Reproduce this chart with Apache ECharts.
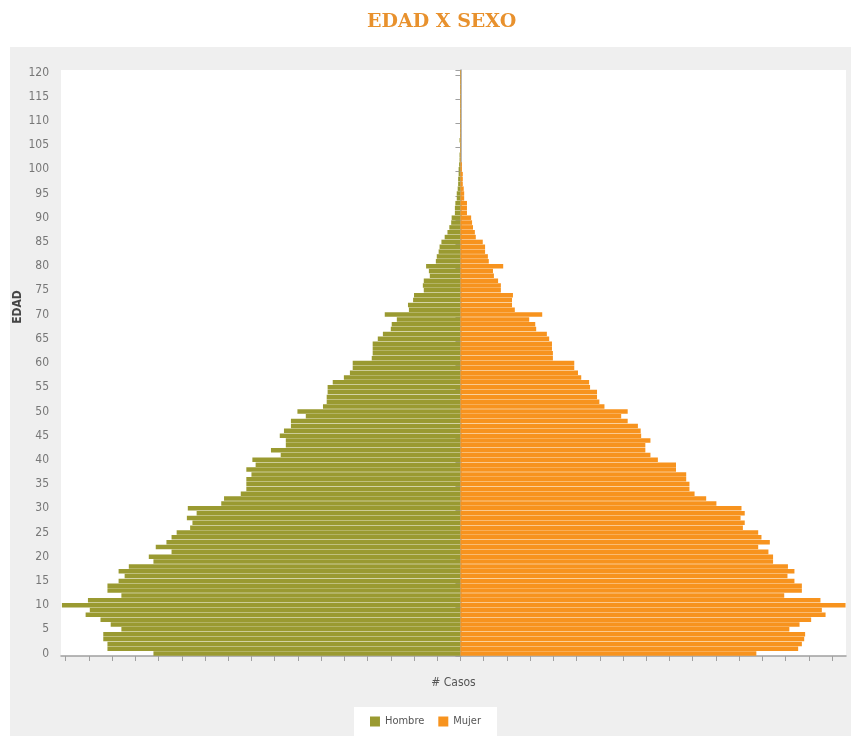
<!DOCTYPE html>
<html>
<head>
<meta charset="utf-8">
<title>EDAD X SEXO</title>
<script src="https://cdn.jsdelivr.net/npm/echarts@6/dist/echarts.min.js"></script>
<style>
  html, body { margin: 0; padding: 0; background: #fff; }
  #piramide { width: 851px; height: 736px; }
</style>
</head>
<body>
<div id="piramide"></div>
<script>
// edades 0..120
var edades = [
  0, 1, 2, 3, 4, 5, 6, 7, 8, 9, 10, 11, 12, 13, 14, 15, 16, 17, 18, 19,
  20, 21, 22, 23, 24, 25, 26, 27, 28, 29, 30, 31, 32, 33, 34, 35, 36, 37, 38, 39,
  40, 41, 42, 43, 44, 45, 46, 47, 48, 49, 50, 51, 52, 53, 54, 55, 56, 57, 58, 59,
  60, 61, 62, 63, 64, 65, 66, 67, 68, 69, 70, 71, 72, 73, 74, 75, 76, 77, 78, 79,
  80, 81, 82, 83, 84, 85, 86, 87, 88, 89, 90, 91, 92, 93, 94, 95, 96, 97, 98, 99,
  100, 101, 102, 103, 104, 105, 106, 107, 108, 109, 110, 111, 112, 113, 114, 115, 116, 117, 118, 119,
  120
];

// casos hombres (se dibujan hacia la izquierda)
var hombre = [
  661, 760, 760, 769, 769, 730, 753, 775, 807, 798,
  858, 802, 730, 760, 760, 736, 723, 736, 714, 661,
  671, 622, 656, 633, 622, 611, 582, 577, 589, 568,
  587, 515, 509, 473, 461, 461, 461, 450, 461, 441,
  448, 387, 408, 376, 376, 389, 380, 365, 365, 333,
  351, 296, 288, 288, 286, 286, 275, 251, 238, 232,
  232, 191, 189, 189, 189, 178, 167, 150, 148, 137,
  163, 111, 113, 102, 100, 79, 81, 79, 66, 68,
  74, 53, 51, 47, 45, 41, 34, 28, 24, 20,
  19, 12, 12, 11, 8, 8, 6, 5, 5, 4,
  4, 3, 2, 2, 1, 1, 2, 1, 1, 1,
  1, 1, 1, 1, 1, 1, 1, 1, 1, 1,
  1
];

// casos mujeres
var mujer = [
  637, 727, 735, 740, 742, 708, 730, 755, 786, 778,
  829, 775, 697, 735, 735, 719, 704, 719, 705, 673,
  673, 663, 641, 666, 648, 641, 608, 612, 603, 612,
  605, 551, 529, 504, 493, 493, 486, 486, 464, 464,
  425, 409, 398, 398, 409, 389, 388, 382, 360, 346,
  360, 310, 299, 294, 294, 279, 277, 260, 253, 245,
  245, 199, 199, 197, 197, 191, 186, 163, 161, 148,
  176, 117, 111, 111, 113, 87, 87, 81, 72, 70,
  92, 61, 59, 53, 53, 48, 33, 31, 27, 25,
  23, 14, 14, 14, 8, 8, 7, 5, 5, 5,
  3, 3, 1, 1, 1, 1, 1, 1, 1, 1,
  1, 1, 1, 1, 1, 1, 1, 1, 1, 1,
  1
];

// marcas del eje de casos (sin etiquetas)
var marcasCasos = [
  -850, -800, -750, -700, -650, -600, -550, -500, -450, -400, -350, -300,
  -250, -200, -150, -100, -50, 0, 50, 100, 150, 200, 250, 300, 350, 400,
  450, 500, 550, 600, 650, 700, 750, 800
];

var colorHombre = "#9a9a31";
var colorMujer = "#f7931e";
var fuente = "'Liberation Sans Narrow', 'DejaVu Sans Condensed', sans-serif";

var myChart = echarts.init(document.getElementById("piramide"));

var option = {
  backgroundColor: "#fff",
  animation: false,
  title: {
    text: "EDAD X SEXO",
    left: 362,
    top: 8,
    textStyle: {
      color: "#e8912d",
      fontFamily: "'DejaVu Serif', serif",
      fontWeight: "bold",
      fontSize: 19
    }
  },
  graphic: [
    {
      type: "rect",
      z: -10,
      silent: true,
      shape: { x: 10, y: 47, width: 841, height: 689 },
      style: { fill: "#efefef" }
    },
    {
      type: "text",
      x: 18,
      y: 307,
      rotation: Math.PI / 2,
      style: {
        text: "EDAD",
        fill: "#444",
        font: "bold 12px " + fuente,
        textAlign: "center",
        textVerticalAlign: "middle"
      }
    }
  ],
  legend: {
    top: 707,
    left: "center",
    backgroundColor: "#fff",
    padding: [9, 16, 9, 16],
    itemGap: 14,
    itemWidth: 10,
    itemHeight: 10,
    icon: "rect",
    textStyle: { color: "#555", fontSize: 11, fontFamily: fuente },
    data: ["Hombre", "Mujer"]
  },
  grid: {
    left: 61,
    right: 5,
    top: 70,
    bottom: 80,
    show: true,
    backgroundColor: "#fff",
    borderWidth: 0
  },
  xAxis: {
    type: "value",
    min: -860,
    max: 830,
    name: "# Casos",
    nameLocation: "middle",
    nameGap: 21,
    nameTextStyle: { color: "#555", fontSize: 12, fontFamily: fuente },
    axisLine: { show: true, lineStyle: { color: "#a0a0a0", width: 1.5 } },
    axisTick: {
      show: true,
      customValues: marcasCasos,
      length: 5,
      lineStyle: { color: "#a0a0a0" }
    },
    axisLabel: { show: false },
    splitLine: { show: false }
  },
  yAxis: {
    type: "category",
    data: edades,
    axisLine: { show: true, lineStyle: { color: "#a0a0a0", width: 1.5 } },
    axisTick: {
      show: true,
      interval: 4,
      length: 5,
      lineStyle: { color: "#a0a0a0" }
    },
    axisLabel: {
      interval: 4,
      margin: 12,
      color: "#777",
      fontSize: 12,
      fontFamily: fuente
    },
    splitLine: { show: false }
  },
  series: [
    {
      name: "Hombre",
      type: "bar",
      barGap: "-100%",
      barCategoryGap: "7%",
      itemStyle: { color: colorHombre },
      data: hombre.map(function (v) { return -v; })
    },
    {
      name: "Mujer",
      type: "bar",
      barGap: "-100%",
      barCategoryGap: "7%",
      itemStyle: { color: colorMujer },
      data: mujer
    }
  ]
};

myChart.setOption(option);
window.onresize = function () {
  myChart.resize();
};
</script>
</body>
</html>
